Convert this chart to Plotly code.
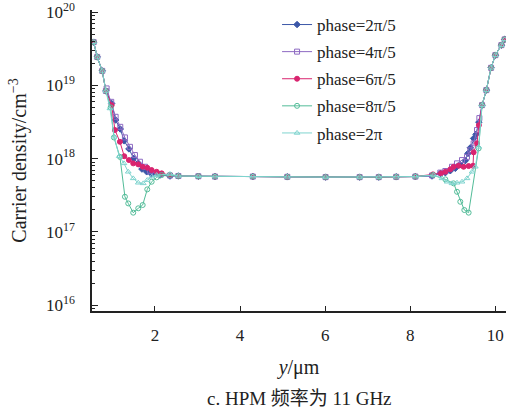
import plotly.graph_objects as go

# wspolne odcinki krzywych
left_common_x = [0.56, 0.642, 0.760, 0.847]
left_common_y = [3.9e19, 2.45e19, 1.58e19, 8.4e18]
flat_x = [2.55, 3.02, 3.41, 4.30, 5.11, 6.01, 6.81, 7.26, 7.67, 8.12]
flat_y = [5.8e17, 5.75e17, 5.7e17, 5.7e17, 5.65e17, 5.6e17, 5.6e17, 5.6e17, 5.65e17, 5.7e17]
right_common_x = [9.687, 9.788, 9.899, 10.0, 10.141, 10.219]
right_common_y = [5.38e18, 8.63e18, 1.74e19, 2.59e19, 3.55e19, 4.25e19]

# phase=2pi/5
p1_left_x = [0.981, 1.075, 1.184, 1.278, 1.388, 1.499, 1.607, 1.694, 1.805, 1.922, 2.118, 2.353]
p1_left_y = [5.68e18, 3.37e18, 2.54e18, 1.75e18, 1.36e18, 1.01e18, 8.63e17, 7.21e17, 6.62e17, 6.17e17, 5.97e17, 5.79e17]
p1_right_x = [8.511, 8.706, 8.824, 8.941, 9.059, 9.176, 9.294, 9.357, 9.412, 9.489, 9.546, 9.612]
p1_right_y = [5.8e17, 6.3e17, 6.43e17, 6.84e17, 7.38e17, 8.3e17, 9.4e17, 1.18e18, 1.41e18, 1.89e18, 2.15e18, 3.15e18]

# phase=4pi/5
p2_left_x = [0.864, 0.972, 1.075, 1.184, 1.294, 1.412, 1.529, 1.647, 1.765, 1.882, 2.0, 2.118, 2.353]
p2_left_y = [9.1e18, 5.97e18, 3.73e18, 2.72e18, 1.95e18, 1.45e18, 1.12e18, 9.08e17, 7.75e17, 6.84e17, 6.30e17, 6.17e17, 5.89e17]
p2_right_x = [8.511, 8.706, 8.824, 8.981, 9.099, 9.216, 9.334, 9.412, 9.489, 9.569, 9.624]
p2_right_y = [5.9e17, 6.45e17, 6.78e17, 7.75e17, 8.63e17, 9.57e17, 1.06e18, 1.3e18, 1.62e18, 2.46e18, 3.58e18]

# phase=6pi/5
p3_left_x = [0.981, 1.059, 1.176, 1.278, 1.388, 1.489, 1.607, 1.711, 1.819, 1.922, 2.040, 2.158, 2.353]
p3_left_y = [5.38e18, 2.46e18, 1.70e18, 1.08e18, 9.57e17, 8.63e17, 8.36e17, 7.75e17, 7.51e17, 6.98e17, 6.62e17, 6.30e17, 5.97e17]
p3_right_x = [8.534, 8.722, 8.824, 8.941, 9.019, 9.136, 9.254, 9.372, 9.475, 9.489, 9.569, 9.612]
p3_right_y = [6.1e17, 6.3e17, 6.62e17, 7.15e17, 7.75e17, 8.0e17, 7.75e17, 7.93e17, 8.0e17, 1.22e18, 1.62e18, 2.87e18]

# phase=8pi/5
p4_left_x = [0.958, 1.035, 1.176, 1.294, 1.372, 1.489, 1.607, 1.711, 1.819, 1.922, 2.040, 2.158, 2.353]
p4_left_y = [5.01e18, 1.95e18, 1.06e18, 3.02e17, 2.45e17, 1.83e17, 2.10e17, 2.33e17, 3.81e17, 4.84e17, 5.56e17, 5.97e17, 5.97e17]
p4_right_x = [8.534, 8.824, 9.019, 9.099, 9.176, 9.271, 9.372, 9.607]
p4_right_y = [5.97e17, 5.22e17, 4.60e17, 3.53e17, 2.58e17, 1.99e17, 1.83e17, 1.38e18]

# phase=2pi
p5_left_x = [0.941, 1.042, 1.160, 1.271, 1.372, 1.489, 1.607, 1.725, 1.819, 1.922, 2.040, 2.353]
p5_left_y = [4.85e18, 1.99e18, 1.08e18, 8.63e17, 6.62e17, 5.38e17, 4.69e17, 4.60e17, 5.10e17, 5.66e17, 5.97e17, 6.17e17]
p5_right_x = [8.549, 8.746, 8.864, 8.981, 9.099, 9.216, 9.334, 9.452, 9.529, 9.607]
p5_right_y = [5.97e17, 5.38e17, 4.84e17, 4.60e17, 4.69e17, 4.84e17, 5.38e17, 6.62e17, 7.75e17, 1.45e18]

names = ['phase=2π/5', 'phase=4π/5', 'phase=6π/5', 'phase=8π/5', 'phase=2π']
kolory = ['#3b57a8', '#8d69c2', '#d9246f', '#52bc98', '#7fd4cf']
symbole = ['diamond', 'square-open', 'circle', 'circle-open', 'triangle-up-open']
serie = [
    (p1_left_x, p1_left_y, p1_right_x, p1_right_y),
    (p2_left_x, p2_left_y, p2_right_x, p2_right_y),
    (p3_left_x, p3_left_y, p3_right_x, p3_right_y),
    (p4_left_x, p4_left_y, p4_right_x, p4_right_y),
    (p5_left_x, p5_left_y, p5_right_x, p5_right_y),
]

font = 'Liberation Serif'

fig = go.Figure()
for i, (lx, ly, rx, ry) in enumerate(serie):
    fig.add_trace(go.Scatter(
        x=left_common_x + lx + flat_x + rx + right_common_x,
        y=left_common_y + ly + flat_y + ry + right_common_y,
        mode='lines+markers', name=names[i], legendgroup=names[i],
        line=dict(color=kolory[i], width=1),
        marker=dict(symbol=symbole[i], size=5, color=kolory[i], line=dict(color=kolory[i], width=1)),
    ))

tick_vals = [1e16, 1e17, 1e18, 1e19, 1e20]
tick_text = ['10<sup>16</sup>', '10<sup>17</sup>', '10<sup>18</sup>', '10<sup>19</sup>', '10<sup>20</sup>']

fig.update_layout(
    width=506, height=412,
    margin=dict(l=92, r=0, t=10, b=101),
    plot_bgcolor='white', paper_bgcolor='white',
    font=dict(family=font, size=17, color='#222'),
    showlegend=True,
    legend=dict(x=0.447, y=1.01, xanchor='left', yanchor='top', bgcolor='rgba(0,0,0,0)',
                font=dict(size=17), tracegroupgap=2),
    xaxis=dict(range=[0.52, 10.25], tickvals=[2, 4, 6, 8, 10], ticks='inside', ticklen=5,
               tickcolor='#222', showline=True, linecolor='#222', linewidth=1.5, showgrid=False,
               zeroline=False, automargin=False, ticklabelstandoff=8, ticklabeloverflow='allow',
               title=dict(text='<i>y</i>/μm', standoff=16)),
    yaxis=dict(type='log', range=[15.92, 20.03], tickvals=tick_vals, ticktext=tick_text,
               ticks='inside', ticklen=6, tickcolor='#222', showline=True, linecolor='#222',
               linewidth=1.5, showgrid=False, zeroline=False, automargin=False,
               ticklabelstandoff=12, ticklabeloverflow='allow',
               minor=dict(ticks='inside', ticklen=3, tickcolor='#222', dtick='D1', showgrid=False),
               title=dict(text='Carrier density/cm<sup>−3</sup>', standoff=14)),
)

fig.add_annotation(text='c. HPM 频率为 11 GHz', xref='paper', yref='paper', x=0.502, y=-0.292,
                   xanchor='center', yanchor='middle', showarrow=False,
                   font=dict(size=19, family='Liberation Serif, Noto Sans CJK SC'))

# bez marginesu strony, zeby wykres zajmowal cale okno
fig.write_html('out.html', config={'displayModeBar': False},
               post_script="document.body.style.margin='0';document.body.style.overflow='hidden';")
